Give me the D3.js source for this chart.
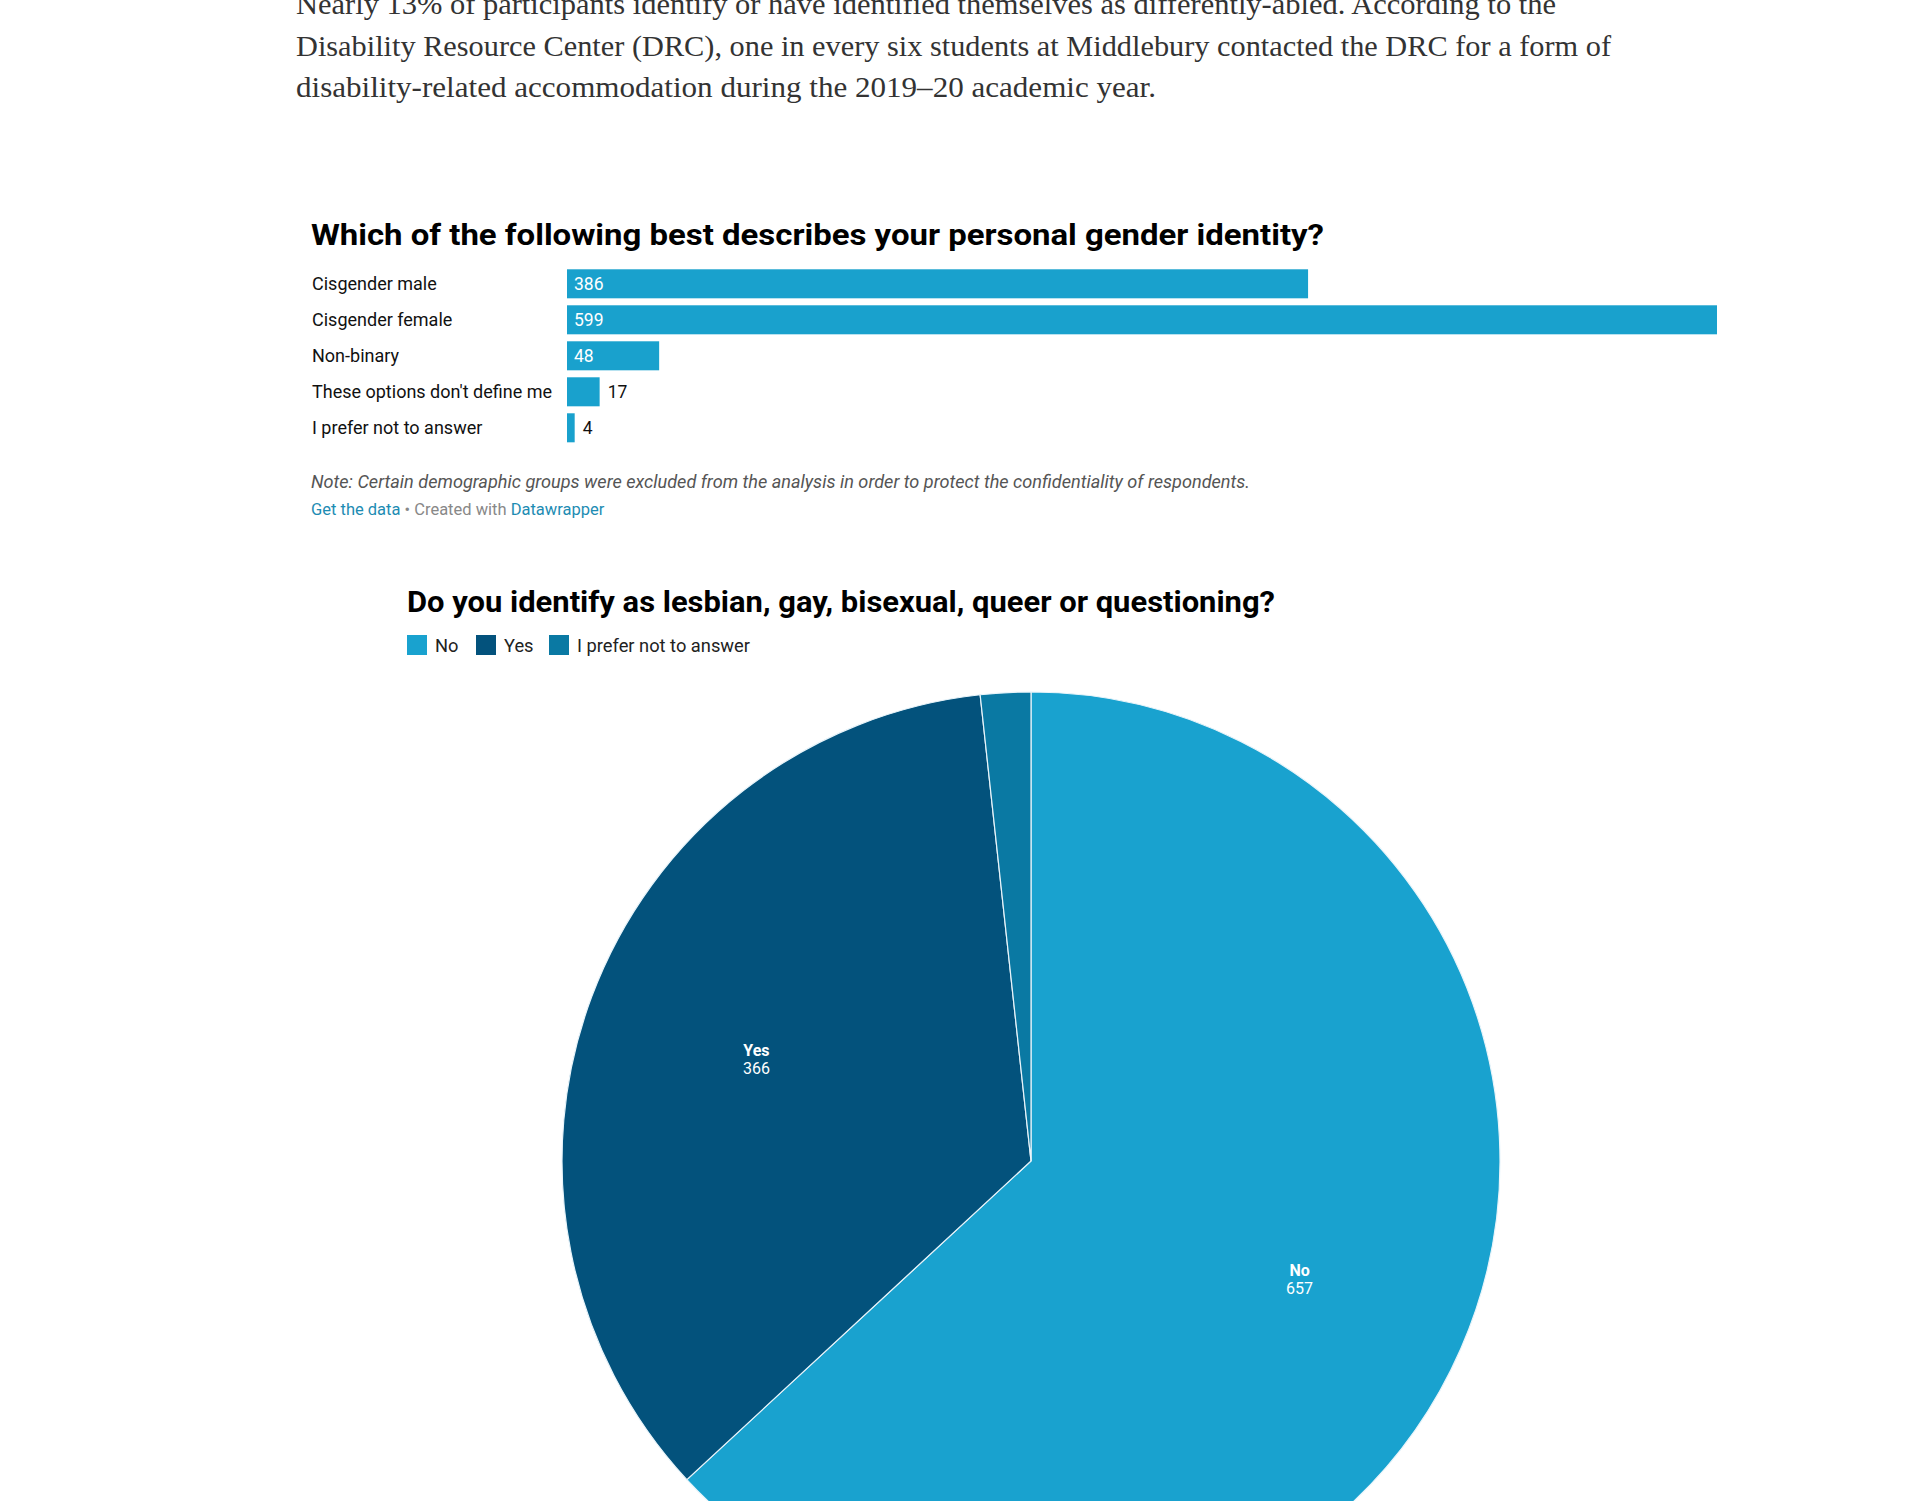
<!DOCTYPE html>
<html>
<head>
<meta charset="utf-8">
<script src="https://cdn.jsdelivr.net/npm/d3@7"></script>
<style>
  html, body { margin: 0; padding: 0; background: #fff; }
  svg { display: block; }
</style>
</head>
<body>
<svg id="chart" width="1920" height="1501"></svg>
<script>
// ---------- DATA ----------
const introLines = [
  "Nearly 13% of participants identify or have identified themselves as differently-abled. According to the",
  "Disability Resource Center (DRC), one in every six students at Middlebury contacted the DRC for a form of",
  "disability-related accommodation during the 2019–20 academic year."
];
const barTitle = "Which of the following best describes your personal gender identity?";
const genderCategories = ["Cisgender male", "Cisgender female", "Non-binary", "These options don't define me", "I prefer not to answer"];
const genderValues = [386, 599, 48, 17, 4];
const noteText = "Note: Certain demographic groups were excluded from the analysis in order to protect the confidentiality of respondents.";

const pieTitle = "Do you identify as lesbian, gay, bisexual, queer or questioning?";
const lgbtqCategories = ["No", "Yes", "I prefer not to answer"];
const lgbtqValues = [657, 366, 18];
const lgbtqColors = ["#19a2cf", "#03527c", "#0a79a3"];

// ---------- DRAW ----------
const svg = d3.select("#chart");
svg.append("rect").attr("width", 1920).attr("height", 1501).attr("fill", "#fff");

// intro paragraph
const introWidths = [1260, 1315, 860];
svg.append("g").selectAll("text").data(introLines).join("text")
  .attr("x", 296)
  .attr("y", (d, i) => 14 + i * 41.5)
  .attr("font-family", "'Liberation Serif', 'DejaVu Serif', serif")
  .attr("font-size", 29)
  .attr("fill", "#333")
  .attr("textLength", (d, i) => introWidths[i])
  .attr("lengthAdjust", "spacingAndGlyphs")
  .text(d => d);

const sans = "Roboto, 'Noto Sans', sans-serif";

// ---- bar chart ----
svg.append("text")
  .attr("x", 311).attr("y", 245)
  .attr("font-family", sans).attr("font-weight", 700).attr("font-size", 30)
  .attr("fill", "#000")
  .attr("textLength", 1013).attr("lengthAdjust", "spacingAndGlyphs")
  .text(barTitle);

const x = d3.scaleLinear().domain([0, d3.max(genderValues)]).range([567, 1717]);
const y = d3.scaleBand().domain(genderCategories).range([265.8, 445.8])
  .paddingInner(0.194).paddingOuter(0.097);
const barData = genderCategories.map((c, i) => ({ c, v: genderValues[i] }));

const rows = svg.append("g").selectAll("g").data(barData).join("g");
rows.append("text")
  .attr("x", 312)
  .attr("y", d => y(d.c) + y.bandwidth() / 2 + 6)
  .attr("font-family", sans).attr("font-size", 18)
  .attr("fill", "#111")
  .text(d => d.c);
rows.append("rect")
  .attr("x", x(0))
  .attr("y", d => y(d.c))
  .attr("width", d => x(d.v) - x(0))
  .attr("height", y.bandwidth())
  .attr("fill", "#19a1cd");
rows.append("text")
  .attr("x", d => (x(d.v) - x(0) > 60) ? x(0) + 7 : x(d.v) + 8)
  .attr("y", d => y(d.c) + y.bandwidth() / 2 + 6)
  .attr("font-family", sans).attr("font-size", 17.5)
  .attr("fill", d => (x(d.v) - x(0) > 60) ? "#fff" : "#111")
  .text(d => d.v);

svg.append("text")
  .attr("x", 311).attr("y", 488)
  .attr("font-family", sans).attr("font-style", "italic").attr("font-size", 17.5)
  .attr("fill", "#555")
  .attr("textLength", 939).attr("lengthAdjust", "spacingAndGlyphs")
  .text(noteText);

const credit = svg.append("text")
  .attr("x", 311).attr("y", 515)
  .attr("font-family", sans).attr("font-size", 16.5);
credit.append("tspan").attr("fill", "#1d8cb3").text("Get the data");
credit.append("tspan").attr("fill", "#888").text(" • Created with ");
credit.append("tspan").attr("fill", "#1d8cb3").text("Datawrapper");

// ---- pie chart ----
svg.append("text")
  .attr("x", 407).attr("y", 612)
  .attr("font-family", sans).attr("font-weight", 700).attr("font-size", 30)
  .attr("fill", "#000")
  .attr("textLength", 868).attr("lengthAdjust", "spacingAndGlyphs")
  .text(pieTitle);

const color = d3.scaleOrdinal().domain(lgbtqCategories).range(lgbtqColors);
const legendX = [407, 476, 549];
const leg = svg.append("g").selectAll("g").data(lgbtqCategories).join("g")
  .attr("transform", (d, i) => `translate(${legendX[i]},635)`);
leg.append("rect").attr("width", 20).attr("height", 20).attr("fill", d => color(d));
leg.append("text").attr("x", 28).attr("y", 17)
  .attr("font-family", sans).attr("font-size", 18.3).attr("fill", "#222")
  .text(d => d);

const cx = 1031, cy = 1161, R = 469;
const pieData = lgbtqCategories.map((c, i) => ({ c, v: lgbtqValues[i] }));
const arcs = d3.pie().sort(null).value(d => d.v)(pieData);
const arc = d3.arc().innerRadius(0).outerRadius(R);
const labelArc = d3.arc().innerRadius(R * 0.625).outerRadius(R * 0.625);
const pg = svg.append("g").attr("transform", `translate(${cx},${cy})`);
pg.selectAll("path").data(arcs).join("path")
  .attr("d", arc)
  .attr("fill", d => color(d.data.c))
  .attr("stroke", "#e8f4fa").attr("stroke-width", 1.2);
const lab = pg.selectAll("g.lab").data(arcs.filter(d => d.data.v > 100)).join("g")
  .attr("class", "lab")
  .attr("transform", d => `translate(${labelArc.centroid(d)})`);
lab.append("text").attr("text-anchor", "middle").attr("y", -2)
  .attr("font-family", sans).attr("font-weight", 700).attr("font-size", 16).attr("fill", "#fff")
  .text(d => d.data.c);
lab.append("text").attr("text-anchor", "middle").attr("y", 16)
  .attr("font-family", sans).attr("font-size", 16).attr("fill", "#fff")
  .text(d => d.data.v);
</script>
</body>
</html>
